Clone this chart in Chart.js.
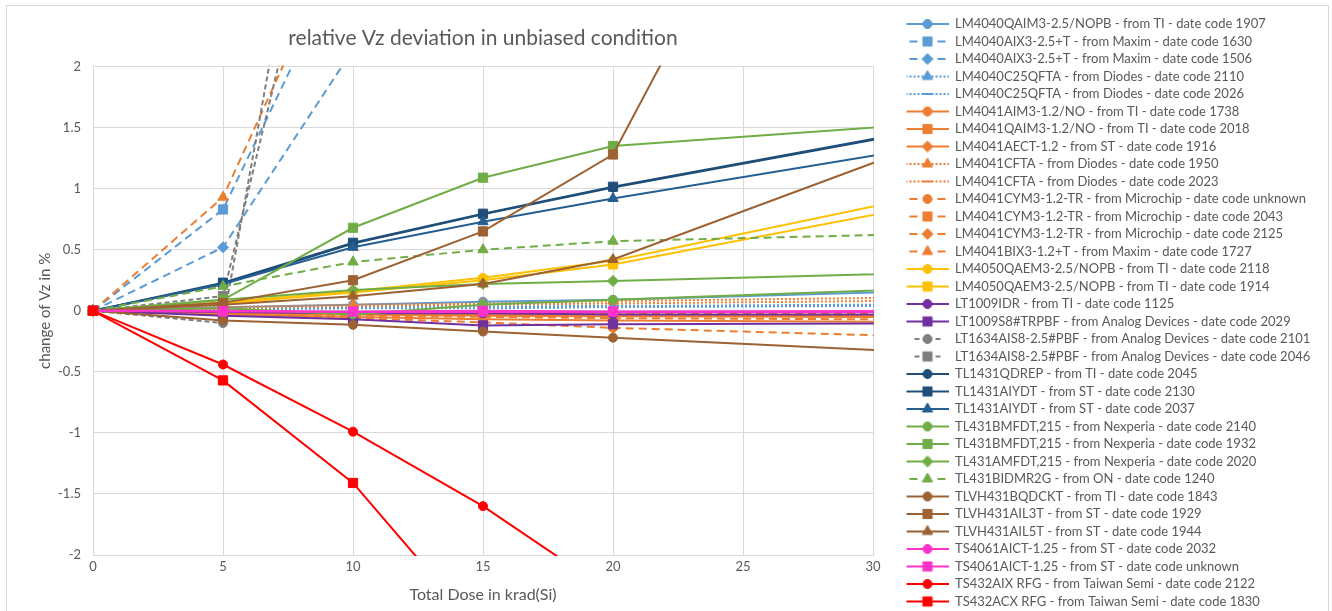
<!DOCTYPE html>
<html>
<head>
<meta charset="utf-8">
<title>relative Vz deviation in unbiased condition</title>
<script src="https://cdn.jsdelivr.net/npm/chart.js@4.4.1/dist/chart.umd.min.js"></script>
<style>
  html, body { margin: 0; padding: 0; overflow: hidden; background: #fff; }
</style>
</head>
<body>
<canvas id="vzChart" width="1332" height="640"></canvas>
<script>
// total dose steps in krad(Si); the last step lies beyond the visible axis
const doses = [0, 5, 10, 15, 20, 40];
const xTicks = { min: 0, max: 30, step: 5 };
const yTicks = { min: -2, max: 2, step: 0.5 };

// relative Vz change in % per part, one value per dose step (null = not measured / off chart)
const lm4040qaim3_1907 = [0, 0.03, 0.05, 0.075, 0.09, 0.21];
const lm4040aix3_1630 = [0, 0.83, 3.04, null, null, null];
const lm4040aix3_1506 = [0, 0.52, 2.14, null, null, null];
const lm4040c25_2110 = [0, 0.02, 0.03, 0.035, 0.04, 0.06];
const lm4040c25_2026 = [0, 0.01, 0.02, 0.02, 0.03, 0.05];
const lm4041aim3_1738 = [0, -0.02, -0.03, -0.04, -0.045, -0.055];
const lm4041qaim3_2018 = [0, -0.03, -0.05, -0.07, -0.08, -0.10];
const lm4041aect_1916 = [0, -0.01, -0.02, -0.03, -0.03, -0.05];
const lm4041cfta_1950 = [0, 0.03, 0.05, 0.06, 0.08, 0.13];
const lm4041cfta_2023 = [0, 0.02, 0.04, 0.05, 0.06, 0.10];
const lm4041cym3_unknown = [0, -0.03, -0.06, -0.095, -0.14, -0.26];
const lm4041cym3_2043 = [0, -0.02, -0.04, -0.05, -0.06, -0.08];
const lm4041cym3_2125 = [0, -0.01, -0.01, -0.02, -0.02, -0.03];
const lm4041bix3_1727 = [0, 0.93, 3.26, null, null, null];
const lm4050_2118 = [0, 0.07, 0.16, 0.27, 0.41, 1.30];
const lm4050_1914 = [0, 0.06, 0.15, 0.25, 0.38, 1.19];
const lt1009idr_1125 = [0, -0.01, -0.02, -0.02, -0.03, -0.03];
const lt1009s8_2029 = [0, -0.04, -0.07, -0.12, -0.11, -0.10];
const lt1634_2101 = [0, -0.1, 5.83, null, null, null];
const lt1634_2046 = [0, 0.12, 4.55, null, null, null];
const tl1431qdrep_2045 = [0, 0.22, 0.55, 0.79, 1.01, 1.79];
const tl1431aiydt_2130 = [0, 0.23, 0.557, 0.795, 1.016, 1.80];
const tl1431aiydt_2037 = [0, 0.22, 0.52, 0.73, 0.92, 1.62];
const tl431bmfdt_2140 = [0, 0.02, -0.03, 0.05, 0.09, 0.24];
const tl431bmfdt_1932 = [0, 0.09, 0.68, 1.09, 1.35, 1.65];
const tl431amfdt_2020 = [0, 0.09, 0.17, 0.22, 0.245, 0.355];
const tl431bidmr2g_1240 = [0, 0.2, 0.4, 0.5, 0.57, 0.67];
const tlvh431bqdckt_1843 = [0, -0.08, -0.115, -0.17, -0.22, -0.42];
const tlvh431ail3t_1929 = [0, 0.065, 0.25, 0.65, 1.28, 9.3];
const tlvh431ail5t_1944 = [0, 0.05, 0.12, 0.22, 0.42, 2.0];
const ts4061_2032 = [0, 0, -0.01, -0.01, -0.01, -0.01];
const ts4061_unknown = [0, -0.005, -0.005, 0, -0.005, 0];
const ts432aix_2122 = [0, -0.44, -0.99, -1.6, -2.32, null];
const ts432acx_1830 = [0, -0.57, -1.41, -2.65, null, null];

const seriesNames = [
  'LM4040QAIM3-2.5/NOPB - from TI - date code 1907',
  'LM4040AIX3-2.5+T - from Maxim - date code 1630',
  'LM4040AIX3-2.5+T - from Maxim - date code 1506',
  'LM4040C25QFTA - from Diodes - date code 2110',
  'LM4040C25QFTA - from Diodes - date code 2026',
  'LM4041AIM3-1.2/NO - from TI - date code 1738',
  'LM4041QAIM3-1.2/NO - from TI - date code 2018',
  'LM4041AECT-1.2 - from ST - date code 1916',
  'LM4041CFTA - from Diodes - date code 1950',
  'LM4041CFTA - from Diodes - date code 2023',
  'LM4041CYM3-1.2-TR - from Microchip - date code unknown',
  'LM4041CYM3-1.2-TR - from Microchip - date code 2043',
  'LM4041CYM3-1.2-TR - from Microchip - date code 2125',
  'LM4041BIX3-1.2+T - from Maxim - date code 1727',
  'LM4050QAEM3-2.5/NOPB - from TI - date code 2118',
  'LM4050QAEM3-2.5/NOPB - from TI - date code 1914',
  'LT1009IDR - from TI - date code 1125',
  'LT1009S8#TRPBF - from Analog Devices - date code 2029',
  'LT1634AIS8-2.5#PBF - from Analog Devices - date code 2101',
  'LT1634AIS8-2.5#PBF - from Analog Devices - date code 2046',
  'TL1431QDREP - from TI - date code 2045',
  'TL1431AIYDT - from ST - date code 2130',
  'TL1431AIYDT - from ST - date code 2037',
  'TL431BMFDT,215 - from Nexperia - date code 2140',
  'TL431BMFDT,215 - from Nexperia - date code 1932',
  'TL431AMFDT,215 - from Nexperia - date code 2020',
  'TL431BIDMR2G - from ON - date code 1240',
  'TLVH431BQDCKT - from TI - date code 1843',
  'TLVH431AIL3T - from ST - date code 1929',
  'TLVH431AIL5T - from ST - date code 1944',
  'TS4061AICT-1.25 - from ST - date code 2032',
  'TS4061AICT-1.25 - from ST - date code unknown',
  'TS432AIX RFG - from Taiwan Semi - date code 2122',
  'TS432ACX RFG - from Taiwan Semi - date code 1830'
];

const seriesValues = [
  lm4040qaim3_1907, lm4040aix3_1630, lm4040aix3_1506, lm4040c25_2110, lm4040c25_2026,
  lm4041aim3_1738, lm4041qaim3_2018, lm4041aect_1916, lm4041cfta_1950, lm4041cfta_2023,
  lm4041cym3_unknown, lm4041cym3_2043, lm4041cym3_2125, lm4041bix3_1727,
  lm4050_2118, lm4050_1914, lt1009idr_1125, lt1009s8_2029, lt1634_2101, lt1634_2046,
  tl1431qdrep_2045, tl1431aiydt_2130, tl1431aiydt_2037,
  tl431bmfdt_2140, tl431bmfdt_1932, tl431amfdt_2020, tl431bidmr2g_1240,
  tlvh431bqdckt_1843, tlvh431ail3t_1929, tlvh431ail5t_1944,
  ts4061_2032, ts4061_unknown, ts432aix_2122, ts432acx_1830
];

// line styles: dash pattern in the plot and in the legend sample
const SOLID = { plot: [], legend: [] };
const DASH = { plot: [8, 5], legend: [0, 10, 8, 8] };
const SHORTDASH = { plot: [5, 3], legend: [0, 8, 5, 2] };
const DOT = { plot: [2, 2], legend: [2, 2] };

const BLUE = '#5B9BD5', ORANGE = '#ED7D31', YELLOW = '#FFC000', PURPLE = '#7030A0',
  GRAY = '#7F7F7F', NAVY = '#1F4E79', NAVY2 = '#255E91', GREEN = '#70AD47',
  BROWN = '#9C6233', MAGENTA = '#FF33CC', RED = '#FF0000';

const markerRadius = { circle: 4.5, rect: 6.5, rectRot: 5.5, triangle: 6, line: 4.5 };

const seriesStyles = [
  [BLUE, SOLID, 'circle'], [BLUE, DASH, 'rect'], [BLUE, DASH, 'rectRot'], [BLUE, DOT, 'triangle'], [BLUE, DOT, 'line'],
  [ORANGE, SOLID, 'circle'], [ORANGE, SOLID, 'rect'], [ORANGE, SOLID, 'rectRot'], [ORANGE, DOT, 'triangle'], [ORANGE, DOT, 'line'],
  [ORANGE, DASH, 'circle'], [ORANGE, DASH, 'rect'], [ORANGE, DASH, 'rectRot'], [ORANGE, DASH, 'triangle'],
  [YELLOW, SOLID, 'circle'], [YELLOW, SOLID, 'rect'],
  [PURPLE, SOLID, 'circle'], [PURPLE, SOLID, 'rect'],
  [GRAY, SHORTDASH, 'circle'], [GRAY, SHORTDASH, 'rect'],
  [NAVY, SOLID, 'circle'], [NAVY, SOLID, 'rect'], [NAVY2, SOLID, 'triangle'],
  [GREEN, SOLID, 'circle'], [GREEN, SOLID, 'rect'], [GREEN, SOLID, 'rectRot'], [GREEN, DASH, 'triangle'],
  [BROWN, SOLID, 'circle'], [BROWN, SOLID, 'rect'], [BROWN, SOLID, 'triangle'],
  [MAGENTA, SOLID, 'circle'], [MAGENTA, SOLID, 'rect'],
  [RED, SOLID, 'circle'], [RED, SOLID, 'rect']
];

const FONT = 'Lato, "Open Sans", sans-serif';
const TEXT = '#595959';
const GRID = '#D9D9D9';
const PLOT_RIGHT = 873;   // where the plot area should end, legend starts right after

Chart.defaults.font.family = FONT;
Chart.defaults.color = TEXT;

// legend sample: transparent gap on the left, then a line with the marker in the middle
const SAMPLE_GAP = 29, SAMPLE_LEN = 42;
function legendSample(color, dash, marker) {
  const c = document.createElement('canvas');
  c.width = SAMPLE_GAP + SAMPLE_LEN;
  c.height = 14;
  const g = c.getContext('2d');
  const cx = SAMPLE_GAP + SAMPLE_LEN / 2, cy = 7;
  g.strokeStyle = color;
  g.fillStyle = color;
  g.lineWidth = 2;
  g.setLineDash(dash.legend);
  [SAMPLE_GAP, SAMPLE_GAP + SAMPLE_LEN].forEach(end => {
    g.beginPath();
    g.moveTo(cx, cy);
    g.lineTo(end, cy);
    g.stroke();
  });
  g.setLineDash([]);
  g.lineWidth = marker === 'line' ? 2 : 1;
  Chart.helpers.drawPoint(g, { pointStyle: marker, radius: markerRadius[marker], rotation: 0, borderWidth: g.lineWidth }, cx, cy);
  return c;
}

const datasets = seriesValues.map((vals, i) => {
  const [color, dash, marker] = seriesStyles[i];
  return {
    label: seriesNames[i],
    data: doses.map((x, k) => ({ x, y: vals[k] })).filter(p => p.y !== null),
    borderColor: color,
    backgroundColor: color,
    borderWidth: 2,
    borderDash: dash.plot,
    pointStyle: marker,
    pointRadius: markerRadius[marker],
    pointBorderWidth: marker === 'line' ? 2 : 1,
    pointBackgroundColor: color,
    pointBorderColor: color,
    tension: 0,
    fill: false,
    order: -i,                // later series on top, like the original
    clip: { left: 8, top: 1, right: 1, bottom: 1 },
    legendSample: legendSample(color, dash, marker)
  };
});

const framePlugin = {
  id: 'frame',
  beforeDraw(chart) {
    const ctx = chart.ctx;
    ctx.save();
    ctx.fillStyle = '#fff';
    ctx.fillRect(0, 0, chart.width, chart.height);
    ctx.strokeStyle = GRID;
    ctx.lineWidth = 1;
    ctx.strokeRect(6.5, 5.5, 1322, 700);
    ctx.restore();
  }
};

const chart = new Chart(document.getElementById('vzChart'), {
  type: 'line',
  data: { datasets },
  plugins: [framePlugin],
  options: {
    responsive: false,
    animation: false,
    events: [],
    layout: { padding: { left: 6, top: 13, right: 0, bottom: 20 } },
    plugins: {
      title: {
        display: true,
        text: 'relative Vz deviation in unbiased condition',
        fullSize: false,
        color: TEXT,
        font: { size: 21, weight: 'normal' },
        padding: { top: 12.4, bottom: 16 }
      },
      legend: {
        position: 'right',
        align: 'start',
        maxWidth: 700,
        labels: {
          usePointStyle: true,
          pointStyleWidth: SAMPLE_GAP + SAMPLE_LEN,
          padding: 4.5,
          color: TEXT,
          font: { size: 13 },
          generateLabels(chart) {
            return chart.data.datasets.map((ds, i) => ({
              text: ds.label,
              pointStyle: ds.legendSample,
              fillStyle: ds.borderColor,
              strokeStyle: ds.borderColor,
              lineWidth: 0,
              fontColor: TEXT,
              hidden: false,
              datasetIndex: i
            }));
          }
        }
      },
      tooltip: { enabled: false }
    },
    scales: {
      x: {
        type: 'linear',
        min: xTicks.min,
        max: xTicks.max,
        ticks: { stepSize: xTicks.step, padding: 4, color: TEXT, font: { size: 13 } },
        grid: { color: GRID, drawTicks: false },
        border: { color: GRID },
        title: { display: true, text: 'Total Dose in krad(Si)', color: TEXT, font: { size: 16 }, padding: { top: 6, bottom: 15.4 } },
        afterFit(scale) { scale.height = 65; }
      },
      y: {
        min: yTicks.min,
        max: yTicks.max,
        ticks: {
          stepSize: yTicks.step, padding: 12, color: TEXT, font: { size: 13 },
          callback: v => String(Number(v.toFixed(1)))
        },
        grid: { color: GRID, drawTicks: false },
        border: { color: GRID },
        title: { display: true, text: 'change of Vz in %', color: TEXT, font: { size: 15 }, padding: { top: 30, bottom: 0 } },
        afterFit(scale) { scale.width = 87; }
      }
    }
  }
});

// push the legend left until the plot area ends where it does in the original
const extra = chart.chartArea.right - PLOT_RIGHT;
if (Math.abs(extra) > 0.5) {
  chart.options.layout.padding = { left: 6, top: 13, right: extra, bottom: 20 };
  chart.update();
}
</script>
</body>
</html>
